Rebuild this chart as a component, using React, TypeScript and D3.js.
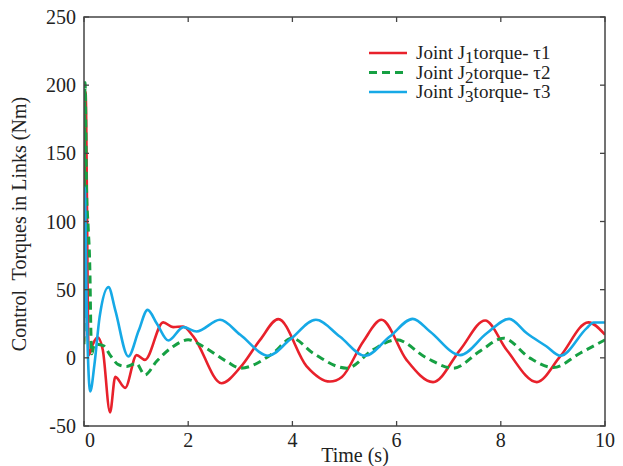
import * as d3 from 'd3';

// time points (s) and joint torques (Nm)
const tau1T = [0, 0.03, 0.09, 0.17, 0.26, 0.36, 0.5, 0.6, 0.79, 1.01, 1.17, 1.52, 1.71, 1.9, 2.1, 2.64, 3.0, 3.38, 3.73, 4.27, 4.72, 4.95, 5.36, 5.71, 6.19, 6.7, 7.22, 7.7, 8.11, 8.69, 9.14, 9.68, 10];
const tau1V = [12, 195, 2, 10, 15, 6, -40, -14, -22, 2, -1.5, 26, 22.5, 23, 15.6, -18.6, -7, 13.2, 28.4, -6, -17.4, -14, 12, 27.9, -1.5, -17.8, 5.9, 27.4, 5.9, -17.8, 1, 26, 17];

const tau2T = [0, 0.02, 0.05, 0.08, 0.115, 0.13, 0.15, 0.2, 0.37, 0.5, 0.66, 0.82, 1.0, 1.17, 1.39, 1.71, 2.0, 2.29, 2.74, 3.0, 3.63, 3.99, 4.4, 5.04, 5.55, 6.0, 6.58, 7.09, 7.6, 8.05, 8.56, 9.01, 9.52, 10];
const tau2V = [10, 202, 121, 96, 60, 23, 3, 10, 9, 2, -5, -6.4, -4, -12.5, -2.7, 8.3, 13.2, 8.3, -2.7, -7.6, 3.4, 14.4, 3.4, -7.6, 6, 13.2, -0.2, -7.6, 4.9, 14.4, -0.2, -7.1, 3.4, 13.2];

const tau3T = [0, 0.015, 0.05, 0.12, 0.2, 0.3, 0.47, 0.6, 0.85, 1.05, 1.22, 1.4, 1.62, 1.91, 2.16, 2.61, 3.0, 3.54, 3.95, 4.45, 4.91, 5.39, 5.87, 6.31, 6.64, 7.22, 7.73, 8.16, 8.5, 8.88, 9.14, 9.65, 9.78, 10];
const tau3V = [15, 125, 40, -24.7, -5, 30, 51.9, 35, 1, 20, 35.2, 25, 12.7, 22.5, 19.3, 27.9, 16.9, 1.5, 13.2, 27.9, 15.6, 1.5, 15.6, 28.6, 19.3, 2, 18, 28.6, 18, 8.3, 1.5, 21.8, 25.9, 25.9];

const xTicks = [0, 2, 4, 6, 8, 10];
const yTicks = [-50, 0, 50, 100, 150, 200, 250];
const legendSub = ['1', '2', '3'];

const series = [
  { t: tau1T, v: tau1V, color: '#e8212b', dash: null, width: 2.6 },
  { t: tau2T, v: tau2V, color: '#16a043', dash: '8,5', width: 3 },
  { t: tau3T, v: tau3V, color: '#16a9e6', dash: null, width: 2.6 },
];

const W = 623;
const H = 466;
const m = { left: 84, right: 605, top: 17, bottom: 426 };
const font = 'Liberation Serif, Times New Roman, serif';
const fs = 20;

export default function App() {
  const x = d3.scaleLinear().domain([0, 10]).range([m.left, m.right]);
  const y = d3.scaleLinear().domain([-50, 250]).range([m.bottom, m.top]);

  const line = d3
    .line<[number, number]>()
    .x(d => x(d[0]))
    .y(d => y(d[1]))
    .curve(d3.curveMonotoneX);

  const axisColor = '#444';
  const tickLen = 5;

  return (
    <svg width={W} height={H} style={{ position: 'absolute', left: 0, top: 0, background: '#fff' }}>
      <defs>
        <clipPath id="plot">
          <rect x={m.left} y={m.top} width={m.right - m.left} height={m.bottom - m.top} />
        </clipPath>
      </defs>

      <g clipPath="url(#plot)">
        {series.map((s, i) => (
          <path
            key={i}
            d={line(s.t.map((t, j) => [t, s.v[j]] as [number, number])) || ''}
            fill="none"
            stroke={s.color}
            strokeWidth={s.width}
            strokeDasharray={s.dash || undefined}
          />
        ))}
      </g>

      {/* frame */}
      <rect x={m.left} y={m.top} width={m.right - m.left} height={m.bottom - m.top} fill="none" stroke={axisColor} strokeWidth={1.5} />

      {xTicks.map(t => (
        <g key={'x' + t}>
          <line x1={x(t)} x2={x(t)} y1={m.bottom} y2={m.bottom - tickLen} stroke={axisColor} strokeWidth={1.3} />
          <line x1={x(t)} x2={x(t)} y1={m.top} y2={m.top + tickLen} stroke={axisColor} strokeWidth={1.3} />
          <text x={x(t) + (t === 0 ? 6 : 0)} y={447} fontFamily={font} fontSize={fs} textAnchor="middle" fill="#222">{t}</text>
        </g>
      ))}

      {yTicks.map(v => (
        <g key={'y' + v}>
          <line x1={m.left} x2={m.left + tickLen} y1={y(v)} y2={y(v)} stroke={axisColor} strokeWidth={1.3} />
          <line x1={m.right} x2={m.right - tickLen} y1={y(v)} y2={y(v)} stroke={axisColor} strokeWidth={1.3} />
          <text x={m.left - 8} y={y(v) + 7} fontFamily={font} fontSize={fs} textAnchor="end" fill="#222">{v}</text>
        </g>
      ))}

      <text x={355} y={462} fontFamily={font} fontSize={fs} textAnchor="middle" fill="#222">Time (s)</text>
      <text
        transform={`translate(26,${224}) rotate(-90)`}
        fontFamily={font}
        fontSize={fs}
        textAnchor="middle"
        fill="#222"
        style={{ whiteSpace: 'pre' }}
      >
        {'Control  Torques in Links (Nm)'}
      </text>

      {/* legend */}
      {series.map((s, i) => {
        const ly = 53 + i * 19.5;
        return (
          <g key={'lg' + i}>
            <line x1={369} x2={407} y1={ly} y2={ly} stroke={s.color} strokeWidth={s.width} strokeDasharray={s.dash || undefined} />
            <text x={416} y={ly + 6} fontFamily={font} fontSize={19} fill="#222">
              Joint J<tspan dy={4} fontSize={17}>{legendSub[i]}</tspan>
              <tspan dy={-4}>torque- τ{legendSub[i]}</tspan>
            </text>
          </g>
        );
      })}
    </svg>
  );
}
